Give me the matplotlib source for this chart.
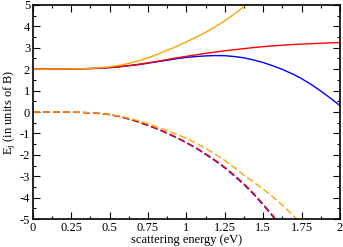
"""Recreate energy levels vs scattering energy chart."""
import matplotlib
matplotlib.use("Agg")
import matplotlib.pyplot as plt
from matplotlib.ticker import MultipleLocator

######################
# Data
######################

x_up_orange = [0, 0.25, 0.3125, 0.375, 0.4375, 0.5, 0.5625, 0.625, 0.6875, 0.75,
               0.8125, 0.875, 0.9375, 1.0, 1.0625, 1.125, 1.1875, 1.25, 1.3125,
               1.375, 1.385]
y_up_orange = [2.0, 2.01, 2.02, 2.04, 2.07, 2.11, 2.18, 2.27, 2.39, 2.53,
               2.7, 2.88, 3.07, 3.28, 3.49, 3.72, 3.98, 4.26, 4.58,
               4.92, 5.0]

x_solid = [0, 0.25, 0.3125, 0.375, 0.4375, 0.5, 0.5625, 0.625, 0.6875, 0.75,
           0.8125, 0.875, 0.9375, 1.0, 1.0625, 1.125, 1.1875, 1.25, 1.3125,
           1.375, 1.4375, 1.5, 1.5625, 1.625, 1.6875, 1.75, 1.8125, 1.875,
           1.9375, 2.0]
y_up_red = [2.0, 2.01, 2.02, 2.03, 2.05, 2.08, 2.12, 2.17, 2.23, 2.3,
            2.37, 2.45, 2.53, 2.6, 2.67, 2.74, 2.8, 2.86, 2.91,
            2.96, 3.01, 3.05, 3.09, 3.12, 3.15, 3.17, 3.19, 3.21,
            3.23, 3.24]
y_up_blue = [2.0, 2.01, 2.02, 2.03, 2.05, 2.07, 2.11, 2.16, 2.21, 2.28,
             2.35, 2.42, 2.49, 2.55, 2.59, 2.62, 2.635, 2.63, 2.59,
             2.53, 2.43, 2.31, 2.16, 1.99, 1.79, 1.56, 1.29, 0.98,
             0.65, 0.3]

x_lo_orange = [0, 0.25, 0.3125, 0.375, 0.4375, 0.5, 0.5625, 0.625, 0.6875, 0.75,
               0.8125, 0.875, 0.9375, 1.0, 1.0625, 1.125, 1.1875, 1.25, 1.3125,
               1.375, 1.4375, 1.5, 1.5625, 1.625, 1.6875, 1.72]
y_lo_orange = [0.0, 0.0, -0.01, -0.03, -0.06, -0.11, -0.19, -0.29, -0.41, -0.55,
               -0.7, -0.87, -1.04, -1.23, -1.45, -1.7, -1.97, -2.26, -2.6,
               -2.95, -3.27, -3.6, -3.96, -4.35, -4.77, -5.0]

x_lo_red = [0, 0.25, 0.3125, 0.375, 0.4375, 0.5, 0.5625, 0.625, 0.6875, 0.75,
            0.8125, 0.875, 0.9375, 1.0, 1.0625, 1.125, 1.1875, 1.25, 1.3125,
            1.375, 1.4375, 1.5, 1.5625, 1.58]
y_lo_red = [0.0, -0.01, -0.02, -0.04, -0.07, -0.12, -0.21, -0.32, -0.46, -0.62,
            -0.79, -0.98, -1.19, -1.42, -1.67, -1.95, -2.25, -2.58, -2.95,
            -3.35, -3.8, -4.3, -4.83, -5.0]
y_lo_blue = [0.0, -0.01, -0.02, -0.04, -0.07, -0.12, -0.21, -0.33, -0.47, -0.63,
             -0.8, -1.0, -1.21, -1.44, -1.69, -1.98, -2.28, -2.61, -2.99,
             -3.39, -3.84, -4.34, -4.87, -5.04]

x_ticks = [0, 0.25, 0.5, 0.75, 1, 1.25, 1.5, 1.75, 2]
x_tick_labels = ["0", "0.25", "0.5", "0.75", "1", "1.25", "1.5", "1.75", "2"]
y_ticks = [-5, -4, -3, -2, -1, 0, 1, 2, 3, 4, 5]
y_tick_labels = ["-5", "-4", "-3", "-2", "-1", "0", "1", "2", "3", "4", "5"]


def main():
    plt.rcParams['font.family'] = ['Liberation Serif', 'DejaVu Serif']
    plt.rcParams['mathtext.fontset'] = 'custom'
    plt.rcParams['mathtext.rm'] = 'Liberation Serif'
    plt.rcParams['mathtext.it'] = 'Liberation Serif:italic'

    fig = plt.figure(figsize=(3.43, 2.47), dpi=100)
    ax = fig.add_axes([0.096, 0.113, 0.895, 0.867])

    dash = (5, 2.2)
    lw = 1.0
    # upper (solid) levels
    ax.plot(x_solid, y_up_blue, color='#0000ff', lw=lw)
    ax.plot(x_solid, y_up_red, color='#ff0000', lw=lw)
    ax.plot(x_up_orange, y_up_orange, color='#ffa500', lw=lw)

    # lower (dashed) levels
    ax.plot(x_lo_red, y_lo_blue, color='#0000ff', lw=lw, dashes=dash)
    ax.plot(x_lo_red, y_lo_red, color='#ff0000', lw=lw, dashes=dash)
    ax.plot(x_lo_orange, y_lo_orange, color='#ffa500', lw=lw, dashes=dash)

    ax.set_xlim(0, 2)
    ax.set_ylim(-5, 5)
    ax.set_xticks(x_ticks)
    ax.set_xticklabels(x_tick_labels)
    ax.set_yticks(y_ticks)
    ax.set_yticklabels(y_tick_labels)
    ax.xaxis.set_minor_locator(MultipleLocator(0.125))
    ax.yaxis.set_minor_locator(MultipleLocator(0.5))
    ax.tick_params(which='both', direction='in', top=True, right=True,
                   labelsize=9, width=0.8, pad=2)
    ax.tick_params(which='major', length=5)
    ax.tick_params(which='minor', length=2.5)
    for sp in ax.spines.values():
        sp.set_linewidth(1.2)

    ax.set_xlabel('scattering energy (eV)', fontsize=9, labelpad=0)
    ax.set_ylabel(r'E$_\mathrm{j}$ (in units of B)', fontsize=9, labelpad=1)

    fig.savefig('out.png', dpi=100)


if __name__ == "__main__":
    main()
